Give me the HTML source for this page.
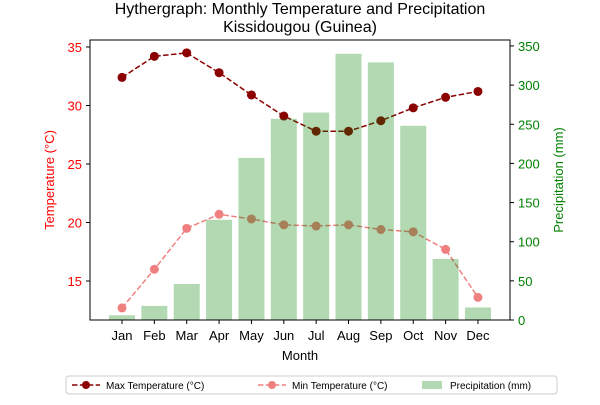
<!DOCTYPE html>
<html><head><meta charset="utf-8"><style>
body{margin:0;background:#fff;font-family:"Liberation Sans",sans-serif}
</style></head><body>
<svg id="c" width="600" height="400" xmlns="http://www.w3.org/2000/svg" font-family="Liberation Sans, sans-serif"></svg>
<script>
const months=["Jan","Feb","Mar","Apr","May","Jun","Jul","Aug","Sep","Oct","Nov","Dec"];
const maxTemp=[32.4,34.2,34.5,32.8,30.9,29.1,27.8,27.8,28.7,29.8,30.7,31.2];
const minTemp=[12.7,16.0,19.5,20.7,20.3,19.8,19.7,19.8,19.4,19.2,17.7,13.6];
const precip=[6,18,46,128,207,257,265,340,329,248,78,16];
const tempTicks=[15,20,25,30,35];
const precTicks=[0,50,100,150,200,250,300,350];
const NS="http://www.w3.org/2000/svg";
const svg=document.getElementById('c');
const L=90,R=510,T=40,B=320;
const xs=i=>122+i*32.36;
const yt=v=>281-(v-15)*11.7;
const yp=v=>320-v*0.783;
function el(t,a,p){const e=document.createElementNS(NS,t);for(const k in a)e.setAttribute(k,a[k]);(p||svg).appendChild(e);return e;}
function tx(x,y,s,a){const e=el('text',Object.assign({x:x,y:y},a));e.textContent=s;return e;}
let e;
e=tx(300,14,"Hythergraph: Monthly Temperature and Precipitation",{"text-anchor":"middle","font-size":"16"});

e=tx(300,32,"Kissidougou (Guinea)",{"text-anchor":"middle","font-size":"16"});

function line(arr,col,name){
 const pts=arr.map((v,i)=>xs(i)+","+yt(v)).join(" ");
 const p=el('polyline',{points:pts,fill:"none",stroke:col,"stroke-width":1.5,"stroke-dasharray":"5.5,2.4"});
 
 arr.forEach((v,i)=>{const c=el('circle',{cx:xs(i),cy:yt(v),r:4.5,fill:col});
 });
}
line(minTemp,"#f08080","min-temp");
line(maxTemp,"#8b0000","max-temp");
precip.forEach((v,i)=>{const b=el('rect',{x:xs(i)-13,y:yp(v),width:26,height:320-yp(v),fill:"#008000","fill-opacity":0.3});
});
el('rect',{x:L,y:T,width:R-L,height:B-T,fill:"none",stroke:"#000","stroke-width":1});
tempTicks.forEach(v=>{el('line',{x1:L-4,x2:L,y1:yt(v),y2:yt(v),stroke:"#000"});
 e=tx(L-8,yt(v)+5,v,{"text-anchor":"end","font-size":"13",fill:"red"});});
precTicks.forEach(v=>{el('line',{x1:R,x2:R+4,y1:yp(v),y2:yp(v),stroke:"#000"});
 e=tx(R+8,yp(v)+5,v,{"font-size":"13",fill:"green"});});
months.forEach((m,i)=>{el('line',{x1:xs(i),x2:xs(i),y1:B,y2:B+4,stroke:"#000"});
 e=tx(xs(i),B+20,m,{"text-anchor":"middle","font-size":"13"});});
e=tx(300,360,"Month",{"text-anchor":"middle","font-size":"13"});
e=tx(0,0,"Temperature (°C)",{"text-anchor":"middle","font-size":"13",fill:"red",transform:"translate(54,180) rotate(-90)"});
e=tx(0,0,"Precipitation (mm)",{"text-anchor":"middle","font-size":"13",fill:"green",transform:"translate(563,180) rotate(-90)"});
const g=el('g',{});
el('rect',{x:66,y:376,width:491,height:18,rx:3,fill:"#fff",stroke:"#ccc"},g);
el('line',{x1:72,x2:100,y1:385,y2:385,stroke:"#8b0000","stroke-width":1.5,"stroke-dasharray":"5.5,2.4"},g);
el('circle',{cx:86,cy:385,r:4,fill:"#8b0000"},g);
tx(106,389,"Max Temperature (°C)",{"font-size":"10"},g);
el('line',{x1:258,x2:286,y1:385,y2:385,stroke:"#f08080","stroke-width":1.5,"stroke-dasharray":"5.5,2.4"},g);
el('circle',{cx:272,cy:385,r:4,fill:"#f08080"},g);
tx(292,389,"Min Temperature (°C)",{"font-size":"10"},g);
el('rect',{x:422,y:381,width:20,height:8,fill:"#008000","fill-opacity":0.3},g);
tx(450,389,"Precipitation (mm)",{"font-size":"10"},g);
</script>
</body></html>
